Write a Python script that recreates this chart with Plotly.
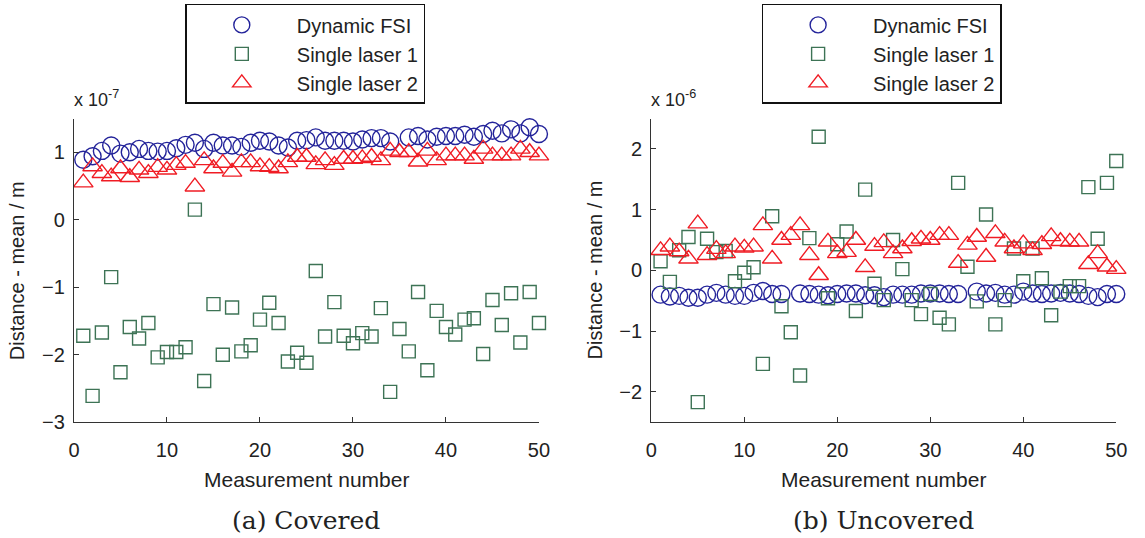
import plotly.graph_objects as go

# ---------------- data ----------------
measurement = list(range(1, 51))

# (a) Covered, values in units of 1e-7 m
covered_fsi = [0.89, 0.94, 1.02, 1.10, 0.98, 1.00, 1.05, 1.02, 1.01, 1.02,
               1.06, 1.11, 1.14, 1.05, 1.14, 1.10, 1.10, 1.08, 1.14, 1.17,
               1.16, 1.10, 1.07, 1.17, 1.18, 1.22, 1.17, 1.17, 1.17, 1.16,
               1.19, 1.21, 1.21, 1.16, None, 1.22, 1.24, 1.19, 1.23, 1.24,
               1.24, 1.26, 1.23, 1.27, 1.32, 1.28, 1.34, 1.28, 1.37, 1.27]
covered_l1 = [-1.72, -2.61, -1.67, -0.85, -2.26, -1.59, -1.76, -1.53, -2.04, -1.96,
              -1.96, -1.89, 0.15, -2.39, -1.25, -2.00, -1.30, -1.95, -1.86, -1.48,
              -1.23, -1.53, -2.10, -1.97, -2.12, -0.76, -1.73, -1.22, -1.72, -1.83,
              -1.68, -1.73, -1.31, -2.55, -1.62, -1.95, -1.07, -2.23, -1.35, -1.59,
              -1.70, -1.48, -1.46, -1.99, -1.19, -1.56, -1.09, -1.82, -1.07, -1.53]
covered_l2 = [0.55, 0.79, 0.69, 0.64, 0.76, 0.63, 0.74, 0.69, 0.78, 0.74,
              0.81, 0.84, 0.49, 0.88, 0.76, 0.84, 0.71, 0.85, 0.85, 0.79,
              0.78, 0.76, 0.85, 0.93, 0.93, 0.82, 0.88, 0.81, 0.90, 0.90,
              0.91, 0.93, 0.88, 1.02, 1.00, 1.00, 0.86, 1.02, 0.88, 0.95,
              0.95, 0.95, 0.90, 1.05, 0.95, 0.95, 0.95, 1.05, 1.00, 0.95]

# (b) Uncovered, values in units of 1e-6 m
uncovered_fsi = [-0.40, -0.43, -0.42, -0.45, -0.45, -0.40, -0.37, -0.40, -0.42, -0.42,
                 -0.37, -0.34, -0.39, -0.39, None, -0.38, -0.39, -0.40, -0.41, -0.39,
                 -0.38, -0.38, -0.41, -0.41, -0.44, -0.40, -0.40, -0.40, -0.38, -0.38,
                 -0.38, -0.39, -0.39, None, -0.35, -0.38, -0.37, -0.40, -0.40, -0.35,
                 -0.38, -0.39, -0.38, -0.37, -0.38, -0.39, -0.42, -0.44, -0.39, -0.39]
uncovered_l1 = [0.15, -0.19, 0.33, 0.55, -2.17, 0.52, 0.30, 0.32, -0.18, -0.04,
                0.05, -1.54, 0.89, -0.59, -1.02, -1.73, 0.53, 2.20, -0.46, 0.43,
                0.64, -0.67, 1.33, -0.22, -0.49, 0.50, 0.02, -0.49, -0.72, -0.39,
                -0.78, -0.89, 1.44, 0.06, -0.51, 0.92, -0.89, -0.49, 0.36, -0.18,
                0.36, -0.13, -0.74, -0.35, -0.26, -0.26, 1.37, 0.52, 1.44, 1.80]
uncovered_l2 = [0.33, 0.39, 0.31, 0.19, 0.77, 0.25, 0.35, 0.28, 0.39, 0.37,
                0.39, 0.74, 0.19, 0.50, 0.58, 0.74, 0.25, -0.08, 0.47, 0.28,
                0.30, 0.50, 0.05, 0.40, 0.46, 0.28, 0.36, 0.48, 0.52, 0.50,
                0.58, 0.58, 0.12, 0.42, 0.55, 0.22, 0.61, 0.47, 0.36, 0.44,
                0.33, 0.43, 0.56, 0.48, 0.47, 0.47, 0.10, 0.28, 0.06, 0.02]

series_names = ["Dynamic FSI", "Single laser 1", "Single laser 2"]
x_ticks = [0, 10, 20, 30, 40, 50]
y_ticks_a = [-3, -2, -1, 0, 1]
y_ticks_b = [-2, -1, 0, 1, 2]
captions = ["(a) Covered", "(b) Uncovered"]
scale_labels = ["x 10<sup>-7</sup>", "x 10<sup>-6</sup>"]

# ---------------- styles ----------------
W, H = 1145, 538
BLUE = "#23239a"
GREEN = "#3d7355"
RED = "#f01c24"
styles = [
    dict(symbol="circle-open", size=17, color=BLUE),
    dict(symbol="square-open", size=13, color=GREEN),
    dict(symbol="triangle-up-open", size=17, color=RED),
]
SANS = "Liberation Sans, Arial, sans-serif"
SERIF = "DejaVu Serif, serif"

fig = go.Figure()

panels = [
    (covered_fsi, covered_l1, covered_l2, "x", "y", "legend"),
    (uncovered_fsi, uncovered_l1, uncovered_l2, "x2", "y2", "legend2"),
]
for fsi, l1, l2, xa, ya, lg in panels:
    for name, vals, st in zip(series_names, [fsi, l1, l2], styles):
        fig.add_trace(go.Scatter(
            x=measurement, y=vals, mode="markers", name=name,
            xaxis=xa, yaxis=ya, legend=lg, cliponaxis=False,
            marker=dict(symbol=st["symbol"], size=st["size"], color=st["color"],
                        line=dict(color=st["color"], width=1.4)),
        ))

def px(v):
    return v / W

def py(v):
    return 1 - v / H

ydom = [py(431), py(121)]
axis_common = dict(
    showline=True, linecolor="#333333", linewidth=1.3,
    ticks="inside", ticklen=5, tickwidth=1.2, tickcolor="#333333",
    showgrid=False, zeroline=False, mirror=False,
    tickfont=dict(family=SANS, size=20, color="#222222"),
)

legend_common = dict(
    xanchor="left", yanchor="top",
    bordercolor="#111111", borderwidth=1.5, bgcolor="white",
    font=dict(family=SANS, size=20, color="#222222"),
    itemwidth=100, tracegroupgap=0,
)

fig.update_layout(
    width=W, height=H,
    margin=dict(l=0, r=0, t=0, b=0),
    paper_bgcolor="white", plot_bgcolor="white",
    font=dict(family=SANS, size=20, color="#222222"),
    xaxis=dict(domain=[px(69), px(541)], range=[0, 50], tickvals=x_ticks,
               anchor="y", ticklabelstandoff=10, **axis_common),
    yaxis=dict(domain=ydom, range=[-3, 1.5], tickvals=y_ticks_a,
               anchor="x", ticklabelstandoff=4, **axis_common),
    xaxis2=dict(domain=[px(655), px(1127)], range=[0, 50], tickvals=x_ticks,
                anchor="y2", ticklabelstandoff=10, **axis_common),
    yaxis2=dict(domain=ydom, range=[-2.5, 2.5], tickvals=y_ticks_b,
                anchor="x2", ticklabelstandoff=4, **axis_common),
    legend=dict(x=px(182), y=py(4), **legend_common),
    legend2=dict(x=px(767), y=py(4), **legend_common),
)

annotations = []
for i, (x0, x1) in enumerate([(69, 541), (655, 1127)]):
    xc = (x0 + x1) / 2
    annotations.append(dict(x=px(xc), y=py(489), xref="paper", yref="paper",
                            text="Measurement number", showarrow=False,
                            font=dict(family=SANS, size=21, color="#222222"),
                            xanchor="center", yanchor="middle"))
    annotations.append(dict(x=px(xc), y=py(531), xref="paper", yref="paper",
                            text=captions[i], showarrow=False,
                            font=dict(family=SERIF, size=25, color="#222222"),
                            xanchor="center", yanchor="middle"))
    annotations.append(dict(x=px(x0 - 2), y=py(101), xref="paper", yref="paper",
                            text=scale_labels[i], showarrow=False,
                            font=dict(family=SANS, size=18, color="#222222"),
                            xanchor="left", yanchor="middle"))
    annotations.append(dict(x=px(x0 - 57), y=py(276), xref="paper", yref="paper",
                            text="Distance - mean / m", showarrow=False,
                            textangle=-90,
                            font=dict(family=SANS, size=20, color="#222222"),
                            xanchor="center", yanchor="middle"))
fig.update_layout(annotations=annotations)

fig.write_html("out.html")
